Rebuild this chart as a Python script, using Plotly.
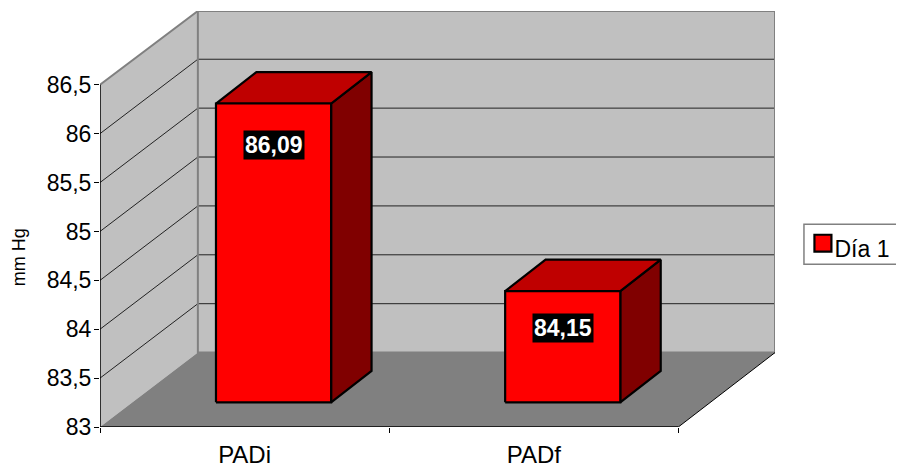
import plotly.graph_objects as go

categories = ["PADi", "PADf"]
values = [86.09, 84.15]
value_labels = ["86,09", "84,15"]
series_name = "Día 1"
y_tick_vals = [83, 83.5, 84, 84.5, 85, 85.5, 86, 86.5]
y_tick_text = ["83", "83,5", "84", "84,5", "85", "85,5", "86", "86,5"]
y_title = "mm Hg"

W, H = 904, 468
OFF = 8.0              # page offset of the figure
L, R, T, B = 99.5, 775.5, 10.5, 427.0   # plot box in page pixels
Y0 = y_tick_vals[0]
PX_X = 289.6           # px per category
PX_Y = 97.9            # px per value unit
XMAX = (R - L) / PX_X
YMAX = Y0 + (B - T) / PX_Y
WX = 98 / PX_X         # wall depth in axis units
WY = 74.5 / PX_Y
BAR_W = 115.3 / PX_X
BAR_DX = 40.5 / PX_X   # bar depth
BAR_DY = 31.5 / PX_Y
BAR_SX = 29.0 / PX_X   # shift of the bar's front plane from the axis plane
BAR_SY = 24.7 / PX_Y
BAR_K = 0.989          # scale of the value axis in the bar's plane


def px(x):
    return (x - L) / (R - L)


def py(y):
    return (B - y) / (B - T)


fig = go.Figure()


def poly(xs, ys, fill, line="rgba(0,0,0,0)", width=0):
    fig.add_trace(go.Scatter(
        x=xs, y=ys, mode="lines", fill="toself", fillcolor=fill,
        line=dict(color=line, width=width), showlegend=False,
        hoverinfo="skip", cliponaxis=False))


def seg(xs, ys, color, width=1):
    fig.add_trace(go.Scatter(
        x=xs, y=ys, mode="lines", line=dict(color=color, width=width),
        showlegend=False, hoverinfo="skip", cliponaxis=False))


# walls and floor
poly([WX, XMAX, XMAX, WX, WX], [Y0 + WY, Y0 + WY, YMAX, YMAX, Y0 + WY], "#c0c0c0")
poly([0, WX, WX, 0, 0], [Y0, Y0 + WY, YMAX, y_tick_vals[-1], Y0], "#c0c0c0")
poly([0, 2, XMAX, WX, 0], [Y0, Y0, Y0 + WY, Y0 + WY, Y0], "#808080")

# gridlines
for v in y_tick_vals[1:-1]:
    seg([0, WX, XMAX], [v, v + WY, v + WY], "#222222", 1)

# wall borders
seg([0, WX, XMAX, XMAX, WX, WX], [y_tick_vals[-1], YMAX, YMAX, Y0 + WY, Y0 + WY, YMAX], "#808080", 2)
seg([2, XMAX], [Y0, Y0 + WY], "#000000", 1)
seg([0, 2], [Y0, Y0], "#000000", 1.5)
seg([0, 0], [Y0, y_tick_vals[-1]], "#000000", 1.5)

# bars
for i, v in enumerate(values):
    x0 = i + 0.5 + BAR_SX - BAR_W / 2
    x1 = x0 + BAR_W
    b = Y0 + BAR_SY
    t = b + (v - Y0) * BAR_K
    poly([x1, x1 + BAR_DX, x1 + BAR_DX, x1, x1],
         [b, b + BAR_DY, t + BAR_DY, t, b], "#800000", "#000000", 2.2)
    poly([x0, x1, x1 + BAR_DX, x0 + BAR_DX, x0],
         [t, t, t + BAR_DY, t + BAR_DY, t], "#bf0000", "#000000", 2.2)
    poly([x0, x1, x1, x0, x0], [b, b, t, t, b], "#ff0000", "#000000", 2.2)
    fig.add_annotation(
        x=(x0 + x1) / 2, y=t, yanchor="middle", yshift=[-41.5, -37][i],
        text="<b>%s</b>" % value_labels[i], showarrow=False,
        font=dict(family="Liberation Sans", size=23, color="#ffffff"),
        bgcolor="#000000", borderpad=1)

# legend entry (its box and swatch sit under the legend text)
fig.add_trace(go.Scatter(
    x=[None], y=[None], mode="markers", name=series_name,
    marker=dict(symbol="square", size=2, color="rgba(0,0,0,0)")))
fig.add_shape(type="rect", xref="paper", yref="paper", layer="above",
              x0=px(804.5), x1=px(930), y0=py(264), y1=py(224),
              fillcolor="#ffffff", line=dict(color="#808080", width=1.5))
fig.add_shape(type="rect", xref="paper", yref="paper", layer="above",
              x0=px(815), x1=px(832), y0=py(251.5), y1=py(234.5),
              fillcolor="#ff0000", line=dict(color="#000000", width=2.2))

fig.add_annotation(
    x=px(18.5), y=py(257), xref="paper", yref="paper", text=y_title, showarrow=False,
    xanchor="center", yanchor="middle", borderpad=0, borderwidth=0,
    textangle=-90, font=dict(family="Liberation Sans", size=18, color="#000000"))

fig.update_layout(
    width=W, height=H, autosize=False,
    margin=dict(l=L - OFF, r=W - (R - OFF), t=T - OFF, b=H - (B - OFF), pad=0, autoexpand=False),
    paper_bgcolor="#ffffff", plot_bgcolor="#ffffff",
    font=dict(family="Liberation Sans", size=22, color="#000000"),
    showlegend=True,
    legend=dict(x=px(795), y=py(226), xanchor="left", yanchor="top",
                bgcolor="rgba(0,0,0,0)", borderwidth=0,
                font=dict(family="Liberation Sans", size=23, color="#000000"),
                itemsizing="constant", itemwidth=30),
    xaxis=dict(range=[0, XMAX], showgrid=False, zeroline=False, showline=False,
               tickmode="array", tickvals=[0.5, 1.5], ticktext=categories, ticks="",
               tickfont=dict(size=24), ticklabelstandoff=11,
               minor=dict(tickmode="array", tickvals=[0, 1, 2], ticks="outside",
                          ticklen=5, tickcolor="#000000", tickwidth=1, showgrid=False)),
    yaxis=dict(range=[Y0, YMAX], showgrid=False, zeroline=False, showline=False,
               tickmode="array", tickvals=y_tick_vals, ticktext=y_tick_text,
               ticks="outside", ticklen=5, tickcolor="#000000", tickwidth=1,
               ticklabelstandoff=-2, tickfont=dict(size=23)),
)

fig.write_html("out.html")
